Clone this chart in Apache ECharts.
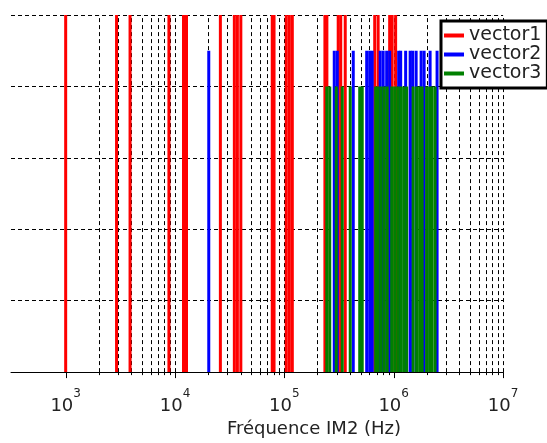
<!DOCTYPE html>
<html>
<head>
<meta charset="utf-8">
<script src="https://cdn.jsdelivr.net/npm/echarts@6/dist/echarts.min.js"></script>
<style>html,body{margin:0;padding:0;background:#fff}#c{width:547px;height:443px}</style>
</head>
<body>
<div id="c"></div>
<script>
// ---- data (frequencies in Hz, stem heights) ----
const vector1Freqs = [1000, 2920, 3880, 8800, 11960, 12740, 26000, 34900, 37200, 40000,
  77500, 80500, 104200, 111100, 118300, 235000, 245000, 311000, 328000, 360600,
  670800, 721000, 919000, 968600, 1042000];
const vector1Values = [1, 1, 1, 1, 1, 1, 1, 1, 1, 1, 1, 1, 1, 1, 1, 1, 1, 1, 1, 1, 1, 1, 1, 1, 1];

const vector2Freqs = [20360, 286200, 305000, 426900, 566700, 603600, 636500, 752700, 802000,
  863000, 919000, 1111000, 1159000, 1287000, 1415000, 1491000, 1605000, 1783000, 1899000,
  2154000, 2495000];
const vector2Values = [0.9, 0.9, 0.9, 0.9, 0.9, 0.9, 0.9, 0.9, 0.9, 0.9, 0.9, 0.9, 0.9, 0.9,
  0.9, 0.9, 0.9, 0.9, 0.9, 0.9, 0.9];

const vector3Freqs = [244500, 260300, 298500, 338600, 400600, 489200, 515700, 684800, 721900,
  768800, 819000, 872000, 958900, 1021000, 1088000, 1158000, 1234000, 1314000, 1507000,
  1622000, 1728000, 1821000, 2002000, 2133000, 2247000, 2393000];
const vector3Values = [0.8, 0.8, 0.8, 0.8, 0.8, 0.8, 0.8, 0.8, 0.8, 0.8, 0.8, 0.8, 0.8, 0.8,
  0.8, 0.8, 0.8, 0.8, 0.8, 0.8, 0.8, 0.8, 0.8, 0.8, 0.8, 0.8];

const xMin = 316.2, xMax = 1e7;
const decades = [3, 4, 5, 6];
const yMin = 0, yMax = 1, yInterval = 0.2;
const xLabel = 'Fréquence IM2 (Hz)';
const seriesNames = ['vector1', 'vector2', 'vector3'];
const seriesColors = ['#ff0000', '#0000ff', '#008000'];

// gridline positions (log grid: 1..9 x 10^d)
const gridVals = [];
decades.forEach(d => { for (let m = 1; m <= 9; m++) gridVals.push([m * Math.pow(10, d), m === 1 ? 1 : 0]); });
gridVals.push([1e7, 1]);

function zip(a, b) { return a.map((v, i) => [v, b[i]]); }

function stemRender(params, api) {
  const x = api.value(0), y = api.value(1);
  const p0 = api.coord([x, yMin]), p1 = api.coord([x, y]);
  return { type: 'line', shape: { x1: p0[0], y1: p0[1], x2: p1[0], y2: p1[1] },
    style: { stroke: api.visual('color'), lineWidth: 3 } };
}
function gridRender(params, api) {
  const x = api.value(0), major = api.value(1);
  const p0 = api.coord([x, yMin]), p1 = api.coord([x, yMax]);
  const xx = Math.round(p0[0]) + 0.5;
  return { type: 'group', children: [
    { type: 'line', shape: { x1: xx, y1: p0[1], x2: xx, y2: p1[1] },
      style: { stroke: '#000', lineWidth: 1, lineDash: [4, 3] } },
    { type: 'line', shape: { x1: xx, y1: p0[1], x2: xx, y2: p0[1] + (major ? 6 : 3) },
      style: { stroke: '#000', lineWidth: 1 } }
  ] };
}

const chart = echarts.init(document.getElementById('c'), null, { renderer: 'canvas' });
const stemSeries = [[vector1Freqs, vector1Values], [vector2Freqs, vector2Values], [vector3Freqs, vector3Values]]
  .map((s, i) => ({
    name: seriesNames[i], type: 'custom', renderItem: stemRender, data: zip(s[0], s[1]),
    encode: { x: 0, y: 1 }, itemStyle: { color: seriesColors[i] }, color: seriesColors[i],
    z: 3 + i, silent: true, animation: false
  }));

chart.setOption({
  animation: false,
  backgroundColor: '#fff',
  textStyle: { fontFamily: 'DejaVu Sans' },
  grid: { left: 11, right: 44, top: 15, bottom: 60, containLabel: false },
  xAxis: {
    type: 'log', logBase: 10, min: xMin, max: xMax,
    name: xLabel, nameLocation: 'middle', nameGap: 45,
    nameTextStyle: { fontFamily: 'DejaVu Sans', fontSize: 18, color: '#222', padding: [0, 0, 0, 114] },
    axisLine: { show: true, onZero: false, lineStyle: { color: '#000', width: 1 } },
    axisTick: { show: false },
    splitLine: { show: false },
    axisLabel: {
      margin: 16, color: '#222', fontFamily: 'DejaVu Sans',
      formatter: function (v) {
        const e = Math.log10(v), r = Math.round(e);
        if (Math.abs(e - r) > 1e-6) return '';
        return '{b|10}{sup|' + r + '}';
      },
      rich: {
        b: { fontSize: 18, lineHeight: 36, color: '#222', fontFamily: 'DejaVu Sans' },
        sup: { fontSize: 12, lineHeight: 12, verticalAlign: 'top', color: '#222', fontFamily: 'DejaVu Sans' }
      }
    }
  },
  yAxis: {
    type: 'value', min: yMin, max: yMax, interval: yInterval,
    axisLine: { show: false }, axisTick: { show: false }, axisLabel: { show: false },
    splitLine: { show: true, lineStyle: { color: '#000', width: 1, type: [4, 3] } }
  },
  legend: {
    orient: 'vertical', left: 441, top: 21, icon: 'rect', itemWidth: 20, itemHeight: 4, itemGap: 0,
    padding: [5, 6, 5, 3], backgroundColor: '#fff', borderColor: '#000', borderWidth: 3, borderRadius: 0,
    textStyle: { fontFamily: 'DejaVu Sans', fontSize: 19, color: '#222', lineHeight: 18 },
    data: seriesNames
  },
  series: [{
    type: 'custom', renderItem: gridRender, data: gridVals, encode: { x: 0, y: 1 },
    clip: false, silent: true, z: 1, animation: false
  }].concat(stemSeries)
});
</script>
</body>
</html>
